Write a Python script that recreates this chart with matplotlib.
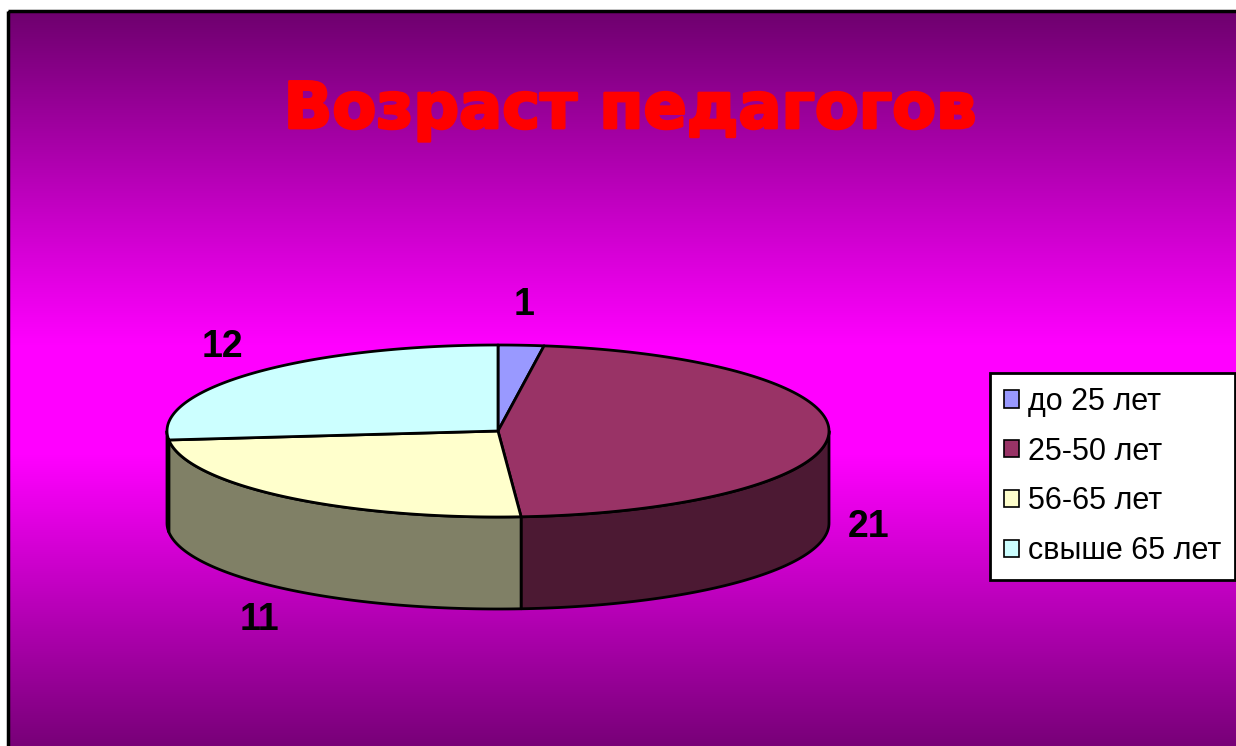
import numpy as np
import matplotlib
matplotlib.use('Agg')
import matplotlib.pyplot as plt
from matplotlib.patches import Polygon, Rectangle
import matplotlib.patheffects as pe

plt.rcParams['font.family'] = ['Liberation Sans', 'DejaVu Sans']

# данные
categories = ['до 25 лет', '25-50 лет', '56-65 лет', 'свыше 65 лет']
values = [1, 21, 11, 12]
top_colors = ['#9999FF', '#993366', '#FFFFCC', '#CCFFFF']
side_colors = ['#4C4C80', '#4C1933', '#808066', '#668080']
title = 'Возраст педагогов'

W, H = 1236, 746
fig = plt.figure(figsize=(W / 100, H / 100), dpi=100)
ax = fig.add_axes([0, 0, 1, 1])
ax.set_xlim(0, W)
ax.set_ylim(H, 0)
ax.axis('off')

# фон с градиентом
ys = np.arange(11, H + 1)
lev = np.interp(ys, [11, 345, 455, 746], [110, 255, 255, 120]) / 255.0
grad = np.zeros((len(ys), 1, 3))
grad[:, 0, 0] = lev
grad[:, 0, 2] = lev
ax.imshow(grad, extent=[8, W + 2, H, 11], aspect='auto', zorder=0, interpolation='bilinear')
ax.add_patch(Rectangle((8, 11), W + 50, H + 50, fill=False, ec='black', lw=2.5, zorder=1))

# круговая диаграмма (псевдо-3D)
cx, cy, rx, ry, depth = 498, 431, 331, 86, 92


def pt(t, dy=0.0):
    r = np.radians(t)
    return cx + rx * np.sin(r), cy - ry * np.cos(r) + dy


total = sum(values)
bounds = np.concatenate([[0], np.cumsum(values) / total * 360])

for i in range(len(values)):
    a, b = bounds[i], bounds[i + 1]
    # боковая стенка
    s0, s1 = max(a, 90), min(b, 270)
    if s1 > s0:
        tt = np.linspace(s0, s1, 80)
        upper = [pt(t) for t in tt]
        lower = [pt(t, depth) for t in tt[::-1]]
        ax.add_patch(Polygon(upper + lower, closed=True, fc=side_colors[i], ec='black',
                             lw=2, joinstyle='round', zorder=2))
    # верхняя грань
    tt = np.linspace(a, b, 120)
    poly = [(cx, cy)] + [pt(t) for t in tt]
    ax.add_patch(Polygon(poly, closed=True, fc=top_colors[i], ec='black',
                         lw=2, joinstyle='round', zorder=3))

    # подпись значения
    mid = np.radians((a + b) / 2)
    lx = cx + (rx + 40) * np.sin(mid)
    ly = cy - (ry + 40) * np.cos(mid)
    if np.cos(mid) < 0:
        ly += depth
    ax.text(lx, ly, str(values[i]), fontsize=27, fontweight='bold', color='black',
            ha='center', va='center', zorder=4)

# заголовок
ax.text(630, 128, title, fontsize=46, fontweight='bold', color='#FF0000',
        family='DejaVu Sans', ha='center', va='baseline', zorder=4,
        path_effects=[pe.withStroke(linewidth=2, foreground='#FF0000')])

# легенда
handles = [Rectangle((0, 0), 1, 1, fc=c, ec='black', lw=1.2) for c in top_colors]
leg = ax.legend(handles, categories, loc='upper left',
                bbox_to_anchor=(990 / W, 1 - 373 / H), bbox_transform=fig.transFigure,
                frameon=True, fancybox=False, edgecolor='black', framealpha=1,
                prop={'size': 22}, handlelength=0.5, handleheight=0.5,
                handletextpad=0.3, labelspacing=0.65, borderpad=0.45, borderaxespad=0)
leg.get_frame().set_linewidth(2)
leg.set_zorder(5)

fig.savefig('out.png', dpi=100)
